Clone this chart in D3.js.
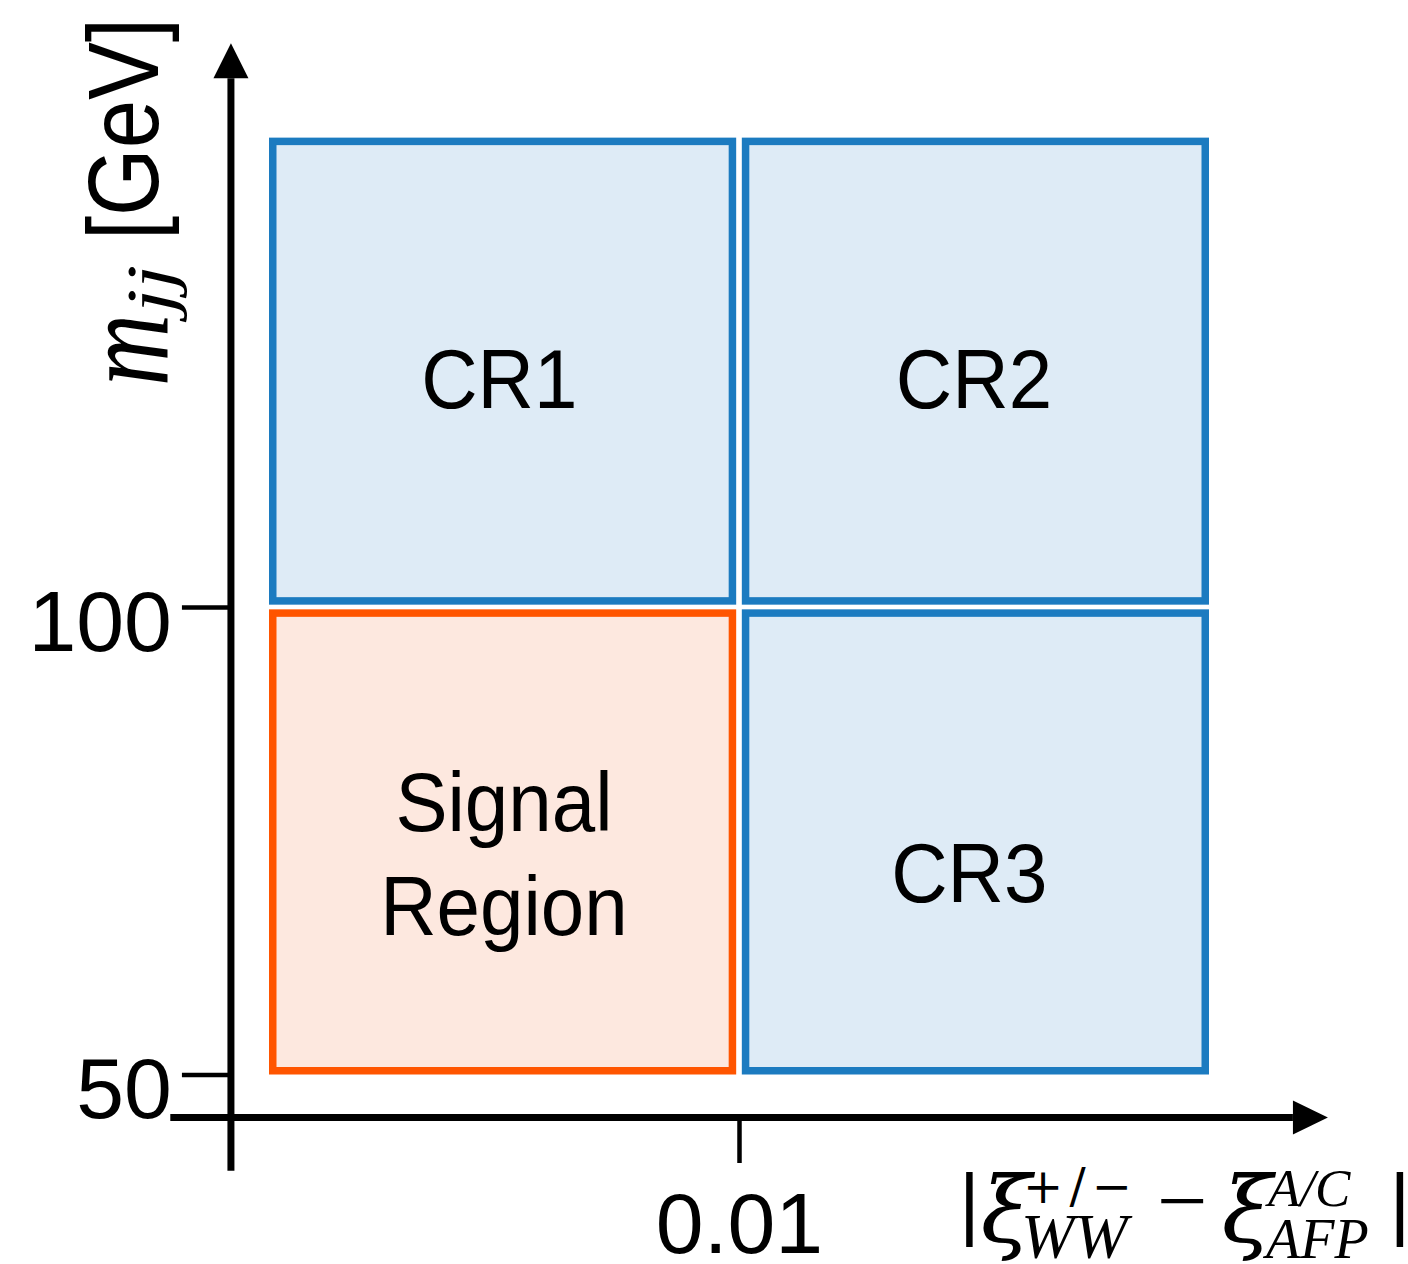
<!DOCTYPE html>
<html>
<head>
<meta charset="utf-8">
<script src="https://cdn.jsdelivr.net/npm/d3@7"></script>
<style>
body { margin: 0; background: #fff; }
</style>
</head>
<body>
<div id="chart"></div>
<script>
// regions of the (|xi diff|, m_jj) plane
var regionNames = ["CR1", "CR2", "Signal Region", "CR3"];
var regionLines = [["CR1"], ["CR2"], ["Signal", "Region"], ["CR3"]];
var regionKind = ["control", "control", "signal", "control"];
var regionX0 = [0, 0.01006, 0, 0.01006];
var regionX1 = [0.00994, 0.02, 0.00994, 0.02];
var regionY0 = [100.25, 100.25, 50, 50];
var regionY1 = [150.2, 150.2, 99.75, 99.75];
// label anchor: centre x and first baseline, in data units
var labelX = [0.0049, 0.0150, 0.0050, 0.0149];
var labelY = [121.3, 121.3, 76.0, 68.5];

// ticks
var xTicks = [0.01];
var yTicks = [50, 100];

// where the axes sit and how far they run (data units)
var xAxisRange = [-0.0021, 0.02253];
var yAxisRange = [39.7, 160.3];
var xAxisAt = 45.4;
var yAxisAt = -0.00081;

var svgWidth = 1408;
var svgHeight = 1264;

var sans = "'Helvetica Neue', 'Liberation Sans', Arial, sans-serif";
var serif = "'Liberation Serif', 'Times New Roman', serif";
var mathSerif = "'DejaVu Serif', 'Liberation Serif', serif";

var colors = {
    control: { stroke: "#1c7bc0", fill: "#deebf6" },
    signal: { stroke: "#ff5500", fill: "#fde8df" }
};

var svg = d3.select("#chart")
    .append("svg")
    .attr("width", svgWidth)
    .attr("height", svgHeight);

var x = d3.scaleLinear()
    .domain([0, 0.02])
    .range([269, 1209]);

var y = d3.scaleLinear()
    .domain([50, 100])
    .range([1074.5, 607]);

//region boxes
var sw = 7.5;
var regions = regionNames.map(function(name, i) {
    return { name: name, lines: regionLines[i], kind: regionKind[i],
        x0: regionX0[i], x1: regionX1[i], y0: regionY0[i], y1: regionY1[i],
        lx: labelX[i], ly: labelY[i] };
});

svg.selectAll("rect.region")
    .data(regions)
    .enter()
    .append("rect")
    .attr("class", "region")
    .attr("x", d => x(d.x0) + sw / 2)
    .attr("y", d => y(d.y1) + sw / 2)
    .attr("width", d => x(d.x1) - x(d.x0) - sw)
    .attr("height", d => y(d.y0) - y(d.y1) - sw)
    .attr("fill", d => colors[d.kind].fill)
    .attr("stroke", d => colors[d.kind].stroke)
    .attr("stroke-width", sw);

//region labels, one text per line, squeezed a little like the narrower original face
var lineData = [];
regions.forEach(function(d) {
    d.lines.forEach(function(t, k) { lineData.push({ t: t, k: k, d: d }); });
});

svg.selectAll("text.region-label")
    .data(lineData)
    .enter()
    .append("text")
    .attr("class", "region-label")
    .attr("font-family", sans)
    .attr("font-size", 84)
    .attr("text-anchor", "middle")
    .attr("fill", "#000")
    .attr("x", e => x(e.d.lx))
    .attr("y", e => y(e.d.ly) + e.k * 104)
    .text(e => e.t)
    .each(function() {
        var w = this.getComputedTextLength();
        d3.select(this).attr("textLength", w * 0.93).attr("lengthAdjust", "spacingAndGlyphs");
    });

//axes
var xa = x(yAxisAt);
var ya = y(xAxisAt);
var head = 35;

var leftAxis = d3.axisLeft(y)
    .tickValues(yTicks)
    .tickSize(49)
    .tickPadding(10)
    .tickFormat(d3.format("d"));

var gy = svg.append("g")
    .attr("transform", `translate(${xa}, 0)`)
    .call(leftAxis);
gy.select(".domain").remove();
gy.selectAll(".tick line").attr("stroke", "#000").attr("stroke-width", 4.5);
gy.selectAll(".tick text")
    .attr("font-family", sans)
    .attr("font-size", 86)
    .attr("fill", "#000")
    .attr("dy", "0.5em");

var botAxis = d3.axisBottom(x)
    .tickValues(xTicks)
    .tickSize(45.5)
    .tickPadding(29)
    .tickFormat(d3.format(".2f"));

var gx = svg.append("g")
    .attr("transform", `translate(0, ${ya})`)
    .call(botAxis);
gx.select(".domain").remove();
gx.selectAll(".tick line").attr("stroke", "#000").attr("stroke-width", 4.5);
gx.selectAll(".tick text")
    .attr("font-family", sans)
    .attr("font-size", 86)
    .attr("fill", "#000");

// axis lines with arrow heads
var yTop = y(yAxisRange[1]);
svg.append("line")
    .attr("x1", xa).attr("x2", xa)
    .attr("y1", y(yAxisRange[0])).attr("y2", yTop + head)
    .attr("stroke", "#000").attr("stroke-width", 7);
svg.append("path")
    .attr("d", `M${xa},${yTop} L${xa + 17.5},${yTop + head} L${xa - 17.5},${yTop + head} Z`)
    .attr("fill", "#000");

var xEnd = x(xAxisRange[1]);
svg.append("line")
    .attr("x1", x(xAxisRange[0])).attr("x2", xEnd - head)
    .attr("y1", ya).attr("y2", ya)
    .attr("stroke", "#000").attr("stroke-width", 7);
svg.append("path")
    .attr("d", `M${xEnd},${ya} L${xEnd - head},${ya - 17} L${xEnd - head},${ya + 17} Z`)
    .attr("fill", "#000");

// y title, rotated pieces
var yTitle = [
    { t: "m", bx: 168, sy: 386, size: 128, fam: serif, it: true, len: 72 },
    { t: "jj", bx: 173, sy: 313, size: 68, fam: serif, it: true, len: 48 },
    { t: "[GeV]", bx: 158, sy: 240, size: 100, fam: sans, it: false, len: 222 }
];
svg.selectAll("text.ytitle")
    .data(yTitle)
    .enter()
    .append("text")
    .attr("class", "ytitle")
    .attr("transform", d => `translate(${d.bx}, ${d.sy}) rotate(-90)`)
    .attr("font-family", d => d.fam)
    .attr("font-style", d => d.it ? "italic" : "normal")
    .attr("font-size", d => d.size)
    .attr("textLength", d => d.len)
    .attr("lengthAdjust", "spacingAndGlyphs")
    .text(d => d.t);

// x title pieces
var xTitle = [
    { t: "|", px: 969.5, py: 1230, size: 80, fam: sans, it: false, anchor: "middle" },
    { t: "ξ", px: 1006, py: 1242, size: 92, fam: mathSerif, it: true, anchor: "middle" },
    { t: "+/−", px: 1023, py: 1203, size: 48, fam: mathSerif, it: false, anchor: "start", len: 109 },
    { t: "WW", px: 1021, py: 1258, size: 64, fam: serif, it: true, anchor: "start" },
    { t: "−", px: 1182.5, py: 1231, size: 90, fam: serif, it: false, anchor: "middle" },
    { t: "ξ", px: 1247, py: 1242, size: 92, fam: mathSerif, it: true, anchor: "middle" },
    { t: "A/C", px: 1268, py: 1206, size: 53, fam: serif, it: true, anchor: "start" },
    { t: "AFP", px: 1266, py: 1258, size: 56, fam: serif, it: true, anchor: "start" },
    { t: "|", px: 1400, py: 1230, size: 80, fam: sans, it: false, anchor: "middle" }
];
var xt = svg.selectAll("text.xtitle")
    .data(xTitle)
    .enter()
    .append("text")
    .attr("class", "xtitle")
    .attr("x", d => d.px)
    .attr("y", d => d.py)
    .attr("font-family", d => d.fam)
    .attr("font-style", d => d.it ? "italic" : "normal")
    .attr("font-size", d => d.size)
    .attr("text-anchor", d => d.anchor)
    .text(d => d.t);
xt.filter(d => d.len)
    .attr("textLength", d => d.len)
    .attr("lengthAdjust", "spacing");
</script>
</body>
</html>
